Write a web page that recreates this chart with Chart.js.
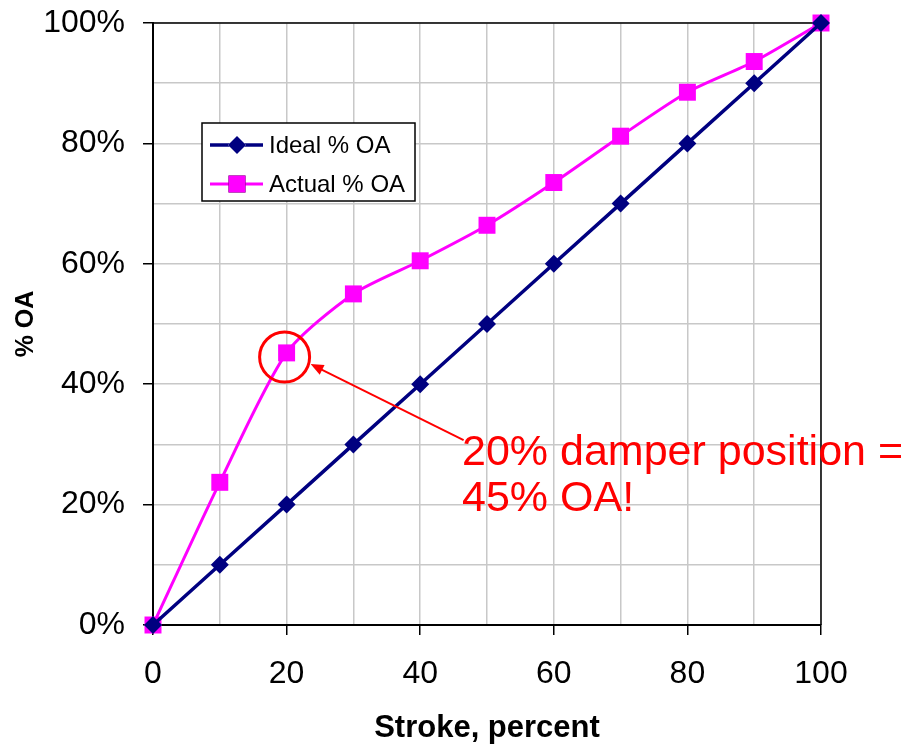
<!DOCTYPE html>
<html>
<head>
<meta charset="utf-8">
<script src="https://cdn.jsdelivr.net/npm/chart.js@4"></script>
<style>
  html, body { margin: 0; padding: 0; background: #fff; }
  #wrap { width: 902px; height: 749px; }
</style>
</head>
<body>
<div id="wrap"><canvas id="Chart-oa" width="902" height="749"></canvas></div>
<script>
var strokes = [0, 10, 20, 30, 40, 50, 60, 70, 80, 90, 100];
var idealOA = [0, 10, 20, 30, 40, 50, 60, 70, 80, 90, 100];
var actualOA = [0, 23.7, 45.2, 55, 60.5, 66.4, 73.5, 81.2, 88.5, 93.6, 100];
var seriesNames = ['Ideal % OA', 'Actual % OA'];
var noteLines = ['20% damper position =', '45% OA!'];
var notePoint = { x: 20, y: 45 };

function toPoints(ys) {
  return strokes.map(function(x, i) { return { x: x, y: ys[i] }; });
}

var frame = {
  id: 'frame',
  beforeDatasetsDraw: function(chart) {
    var c = chart.ctx, a = chart.chartArea;
    c.save();
    // top + right border of the plot area
    c.strokeStyle = '#000';
    c.lineWidth = 1.5;
    c.beginPath();
    c.moveTo(a.left, a.top);
    c.lineTo(a.right, a.top);
    c.lineTo(a.right, a.bottom);
    c.stroke();
    c.restore();
  },
  afterDraw: function(chart) {
    var c = chart.ctx;
    c.save();
    // legend box
    c.strokeStyle = '#000';
    c.lineWidth = 1.5;
    c.fillStyle = '#fff';
    c.fillRect(202, 123, 213, 78);
    c.strokeRect(202, 123, 213, 78);
    c.font = '24px "Liberation Sans", Arial, sans-serif';
    c.textBaseline = 'middle';
    chart.data.datasets.forEach(function(ds, i) {
      var y = 145 + i * 39;
      c.strokeStyle = ds.borderColor;
      c.lineWidth = ds.borderWidth;
      c.beginPath();
      c.moveTo(210, y);
      c.lineTo(263, y);
      c.stroke();
      Chart.helpers.drawPoint(c, { pointStyle: ds.pointStyle, radius: ds.pointRadius, borderWidth: 0 }, 237, y);
      c.fillStyle = ds.pointBackgroundColor;
      c.fill();
      c.fillStyle = '#000';
      c.fillText(ds.label, 269, y + 1);
    });

    // annotation: circle, arrow, text
    var px = chart.scales.x.getPixelForValue(notePoint.x);
    var py = chart.scales.y.getPixelForValue(notePoint.y);
    c.strokeStyle = '#ff0000';
    c.lineWidth = 3;
    c.beginPath();
    c.arc(px - 2, py + 3, 25, 0, Math.PI * 2);
    c.stroke();

    var tipX = px + 24, tipY = py + 10;
    var tailX = px + 177, tailY = py + 86;
    c.lineWidth = 2;
    c.beginPath();
    c.moveTo(tailX, tailY);
    c.lineTo(tipX + 10, tipY + 5);
    c.stroke();
    var ang = Math.atan2(tipY - tailY, tipX - tailX);
    c.fillStyle = '#ff0000';
    c.beginPath();
    c.moveTo(tipX, tipY);
    c.lineTo(tipX - 14 * Math.cos(ang - 0.4), tipY - 14 * Math.sin(ang - 0.4));
    c.lineTo(tipX - 14 * Math.cos(ang + 0.4), tipY - 14 * Math.sin(ang + 0.4));
    c.closePath();
    c.fill();

    c.font = '43px "Liberation Sans", Arial, sans-serif';
    c.textBaseline = 'alphabetic';
    c.textAlign = 'left';
    c.fillText(noteLines[0], 462, 465);
    c.fillText(noteLines[1], 462, 511);
    c.restore();
  }
};

function chart_oa() {
  var ctx = document.getElementById('Chart-oa').getContext('2d');
  var tickFont = { family: '"Liberation Sans", Arial, sans-serif', size: 32 };
  new Chart(ctx, {
    type: 'line',
    data: {
      datasets: [{
          label: seriesNames[0],
          data: toPoints(idealOA),
          borderColor: '#000080',
          backgroundColor: '#000080',
          pointBackgroundColor: '#000080',
          pointBorderWidth: 0,
          pointStyle: 'rectRot',
          pointRadius: 9,
          borderWidth: 3.5,
          tension: 0,
          clip: false
        },
        {
          label: seriesNames[1],
          data: toPoints(actualOA),
          borderColor: '#ff00ff',
          backgroundColor: '#ff00ff',
          pointBackgroundColor: '#ff00ff',
          pointBorderWidth: 0,
          pointStyle: 'rect',
          pointRadius: 12,
          borderWidth: 3,
          tension: 0.25,
          clip: false
        }
      ]
    },
    options: {
      responsive: false,
      animation: false,
      layout: {
        autoPadding: false,
        padding: { top: 23, right: 81, left: 0, bottom: 0 }
      },
      plugins: {
        legend: { display: false },
        tooltip: { enabled: false }
      },
      scales: {
        x: {
          type: 'linear',
          min: 0,
          max: 100,
          afterFit: function(s) { s.height = 124; s.paddingLeft = 0; s.paddingRight = 0; },
          ticks: {
            stepSize: 10,
            autoSkip: false,
            maxRotation: 0,
            padding: 20,
            color: '#000',
            font: tickFont,
            callback: function(v) { return v % 20 === 0 ? v : ''; }
          },
          grid: {
            color: '#c8c8c8',
            lineWidth: 1.5,
            tickLength: 10,
            tickColor: function(c) { return c.tick && c.tick.value % 20 === 0 ? '#000' : 'rgba(0,0,0,0)'; }
          },
          border: { color: '#000', width: 2 },
          title: {
            display: true,
            text: 'Stroke, percent',
            color: '#000',
            font: { family: '"Liberation Sans", Arial, sans-serif', size: 31, weight: 'bold' },
            padding: { top: 0, bottom: 2 }
          }
        },
        y: {
          min: 0,
          max: 100,
          afterFit: function(s) { s.width = 153; s.paddingTop = 0; s.paddingBottom = 0; },
          ticks: {
            stepSize: 10,
            autoSkip: false,
            padding: 18,
            color: '#000',
            font: tickFont,
            callback: function(v) { return v % 20 === 0 ? v + '%' : ''; }
          },
          grid: {
            color: '#c8c8c8',
            lineWidth: 1.5,
            tickLength: 10,
            tickColor: function(c) { return c.tick && c.tick.value % 20 === 0 ? '#000' : 'rgba(0,0,0,0)'; }
          },
          border: { color: '#000', width: 2 },
          title: {
            display: true,
            text: '% OA',
            color: '#000',
            font: { family: '"Liberation Sans", Arial, sans-serif', size: 25, weight: 'bold' },
            padding: { top: 11, bottom: 0 }
          }
        }
      }
    },
    plugins: [frame]
  });
}
chart_oa();
</script>
</body>
</html>
